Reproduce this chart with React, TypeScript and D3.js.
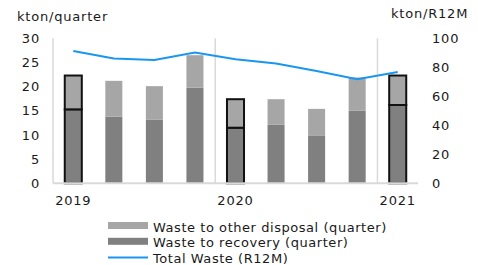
import React from "react";
import * as d3 from "d3";

const quarters = ["2019Q1","2019Q2","2019Q3","2019Q4","2020Q1","2020Q2","2020Q3","2020Q4","2021Q1"];
const recovery = [15.3, 13.8, 13.2, 19.8, 11.5, 12.1, 9.8, 15.0, 16.2];
const otherDisposal = [7.0, 7.4, 6.9, 6.7, 5.9, 5.3, 5.6, 6.9, 6.1];
const totalR12M = [91.3, 86.0, 85.1, 90.2, 85.5, 82.6, 77.5, 71.8, 76.8];
const outlined = [true, false, false, false, true, false, false, false, true];
const yearLabels = [{ idx: 0, text: "2019" }, { idx: 4, text: "2020" }, { idx: 8, text: "2021" }];
const leftTicks = [0, 5, 10, 15, 20, 25, 30];
const rightTicks = [0, 20, 40, 60, 80, 100];
const legendItems = [
  { label: "Waste to other disposal (quarter)", kind: "rect", color: "#a6a6a6" },
  { label: "Waste to recovery (quarter)", kind: "rect", color: "#808080" },
  { label: "Total Waste (R12M)", kind: "line", color: "#1a96f0" },
];

const W = 478, H = 265;
const FONT = "'DejaVu Sans', sans-serif";
const TXT = "#1a1a1a";

export default function App() {
  const left = 53, right = 418, top = 38.3, bottom = 183.3;
  const x = d3.scaleBand<string>().domain(quarters).range([left, right]).paddingInner(0.58).paddingOuter(0.29);
  const yL = d3.scaleLinear().domain([0, 30]).range([bottom, top]);
  const yR = d3.scaleLinear().domain([0, 100]).range([bottom, top]);
  const bw = x.bandwidth();
  const cx = (q: string) => (x(q) as number) + bw / 2;
  const line = d3.line<number>().x((_, i) => cx(quarters[i])).y((d) => yR(d));
  const step = x.step();
  const grids = [4, 8].map((i) => (x(quarters[i]) as number) - (step - bw) / 2);

  return (
    <svg width={W} height={H} style={{ position: "absolute", left: 0, top: 0 }} fontFamily={FONT}>
      <rect width={W} height={H} fill="#fff" />
      <line x1={left} x2={left} y1={top} y2={bottom} stroke="#d9d9d9" strokeWidth={1.5} />
      {grids.map((g, i) => (
        <line key={i} x1={g} x2={g} y1={top} y2={bottom} stroke="#d9d9d9" strokeWidth={1.5} />
      ))}
      {quarters.map((q, i) => {
        const x0 = x(q) as number;
        const r = recovery[i];
        const o = otherDisposal[i];
        const st = outlined[i] ? "#111" : "none";
        return (
          <g key={q}>
            <rect x={x0} y={yL(r)} width={bw} height={yL(0) - yL(r)} fill="#808080" stroke={st} strokeWidth={2} />
            <rect x={x0} y={yL(r + o)} width={bw} height={yL(r) - yL(r + o)} fill="#a6a6a6" stroke={st} strokeWidth={2} />
          </g>
        );
      })}
      <line x1={left} x2={right} y1={bottom} y2={bottom} stroke="#d9d9d9" strokeWidth={2} />
      <path d={line(totalR12M) || ""} fill="none" stroke="#1a96f0" strokeWidth={2} />
      {leftTicks.map((t) => (
        <text key={t} x={40} y={yL(t)} dy="0.36em" textAnchor="end" fontSize={13} letterSpacing={0.8} fill={TXT}>{t}</text>
      ))}
      {rightTicks.map((t) => (
        <text key={t} x={432} y={yR(t)} dy="0.36em" textAnchor="start" fontSize={13} letterSpacing={0.8} fill={TXT}>{t}</text>
      ))}
      <text x={17} y={21} fontSize={13} letterSpacing={0.8} fill={TXT}>kton/quarter</text>
      <text x={391} y={18.3} fontSize={13} letterSpacing={0.8} fill={TXT}>kton/R12M</text>
      {yearLabels.map((d) => (
        <text key={d.text} x={cx(quarters[d.idx])} y={205} textAnchor="middle" fontSize={13} letterSpacing={0.8} fill={TXT}>{d.text}</text>
      ))}
      {legendItems.map((d, i) => {
        const yb = 231.5 + i * 15.8;
        return (
          <g key={d.label}>
            {d.kind === "rect" ? (
              <rect x={108} y={yb - 9.5} width={40} height={7} fill={d.color} />
            ) : (
              <line x1={108} x2={148} y1={yb - 5.5} y2={yb - 5.5} stroke={d.color} strokeWidth={2} />
            )}
            <text x={153} y={yb} fontSize={13} letterSpacing={0.55} fill={TXT}>{d.label}</text>
          </g>
        );
      })}
    </svg>
  );
}
